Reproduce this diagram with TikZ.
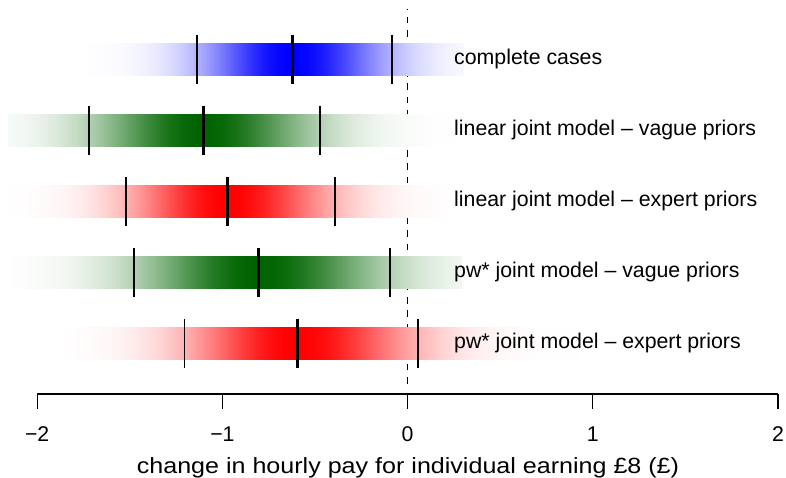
\documentclass[tikz,border=0pt]{standalone}
\usepackage{fontspec}
\setmainfont{Liberation Sans}
\newfontfamily\titlefont{Liberation Sans}[FakeStretch=1.14]
\definecolor{dkgreen}{RGB}{0,100,0}
\definecolor{pureblue}{RGB}{0,0,255}
\definecolor{purered}{RGB}{255,0,0}
% density strip: #1 y centre, #2 median, #3 lower, #4 upper, #5 xmin, #6 xmax, #7 colour
\newcommand{\dstrip}[7]{%
  \pgfmathsetmacro{\dsL}{(#2-#3)/1.96}%
  \pgfmathsetmacro{\dsR}{(#4-#2)/1.96}%
  \pgfmathtruncatemacro{\dsN}{(#6-#5)/2}%
  \foreach \k in {0,...,\dsN} {%
    \pgfmathsetmacro{\dxa}{#5+2*\k}%
    \pgfmathsetmacro{\dxc}{\dxa+1}%
    \pgfmathsetmacro{\dsd}{(\dxc<#2) ? \dsL : \dsR}%
    \pgfmathsetmacro{\dz}{abs(\dxc-#2)/\dsd}%
    \pgfmathsetmacro{\dint}{max(0,min(100,round(100*exp(-0.313*(\dz)*(\dz))*10)/10))}%
    \fill[#7!\dint!white] (\dxa,#1-16.2) rectangle (\dxa+2.5,#1+16.2);
  }%
}
\begin{document}
\begin{tikzpicture}[x=1pt,y=-1pt,
  thintick/.style={line width=1.6pt,black},
  thicktick/.style={line width=3pt,black},
  axisline/.style={line width=1.2pt,black},
  zeroline/.style={line width=1.2pt,black,dash pattern=on 6.67pt off 6.67pt},
  lbl/.style={anchor=base west,inner sep=0pt,font=\fontsize{21.3}{25}\selectfont},
  ticklbl/.style={anchor=base,inner sep=0pt,font=\fontsize{21.3}{25}\selectfont},
  titlelbl/.style={anchor=base,inner sep=0pt,font=\titlefont\fontsize{22}{26}\selectfont},
]
\useasboundingbox (0,0) rectangle (786,478);
\fill[white] (0,0) rectangle (786,478);
% reference line at zero
\coordinate (z0) at (407.6,383.6);
\coordinate (z1) at (407.6,9);
\draw[zeroline] (z0) -- (z1);
% density strips
\foreach \yy/\m/\lo/\hi/\xa/\xb/\col/\txt/\nm in {
  59.5/292.3/197/391.7/87/462/pureblue/complete cases/cc,
  130.5/203.3/88.7/320/8/452/dkgreen/linear joint model – vague priors/lv,
  201.4/227.3/126/335/7/447/purered/linear joint model – expert priors/le,
  272.3/258.7/134/389.7/7/460/dkgreen/pw* joint model – vague priors/pv,
  343.3/297/184.3/418/63/600/purered/pw* joint model – expert priors/pe}{
  \dstrip{\yy}{\m}{\lo}{\hi}{\xa}{\xb}{\col}
  \draw[thintick] (\lo,\yy-24.5) -- (\lo,\yy+24.5);
  \draw[thintick] (\hi,\yy-24.5) -- (\hi,\yy+24.5);
  \draw[thicktick] (\m,\yy-24.8) -- (\m,\yy+24.8);
  \node[lbl] (\nm) at (454,\yy+5.5) {\txt};
}
% x axis
\coordinate (a0) at (37.3,394);
\coordinate (a4) at (778,394);
\draw[axisline] (a0) -- (a4);
\foreach \v/\lab/\nm in {-2/−2/tm2,-1/−1/tm1,0/0/t0,1/1/tp1,2/2/tp2}{
  \draw[axisline] (407.6+185.2*\v,394) -- (407.6+185.2*\v,409);
  \node[ticklbl] (\nm) at (407.6+185.2*\v,441.7) {\lab};
}
\node[titlelbl] (xlab) at (408,473.5) {change in hourly pay for individual earning £8 (£)};
\end{tikzpicture}
\end{document}
